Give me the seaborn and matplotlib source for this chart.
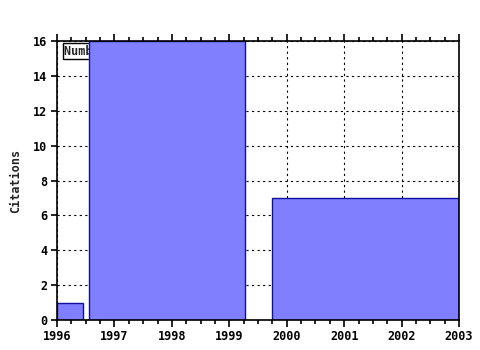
import matplotlib
matplotlib.use("Agg")
import matplotlib.pyplot as plt
from matplotlib.ticker import MultipleLocator
import seaborn as sns

# Data
bin_edges = [1996.0, 1996.45, 1996.56, 1999.27, 1999.75, 2003.0]
citations = [1, 0, 16, 0, 7]
x_ticks = [1996, 1997, 1998, 1999, 2000, 2001, 2002, 2003]
y_ticks = [0, 2, 4, 6, 8, 10, 12, 14, 16]
legend_label = "Number of citations"

sns.set_style("ticks")
plt.rcParams['font.family'] = ['DejaVu Sans Mono', 'DejaVu Sans']
plt.rcParams['font.weight'] = 'bold'
plt.rcParams['xtick.bottom'] = True
plt.rcParams['xtick.top'] = True
plt.rcParams['ytick.left'] = True
plt.rcParams['xtick.color'] = 'black'
plt.rcParams['ytick.color'] = 'black'

fig = plt.figure(figsize=(4.8, 3.5), dpi=100)
ax = fig.add_axes([57/480, 1 - 320/350, (459 - 57)/480, (320 - 41)/350])

mids = [(a + b) / 2 for a, b in zip(bin_edges[:-1], bin_edges[1:])]
sns.histplot(x=mids, weights=citations, bins=bin_edges, ax=ax,
             color="#8080ff", alpha=1.0, edgecolor="#1010a0", linewidth=1.0,
             zorder=3)
for p, c in zip(ax.patches, citations):
    if c == 0:
        p.set_visible(False)

ax.set_xlim(1996, 2003)
ax.set_ylim(0, 16)
ax.set_xticks(x_ticks)
ax.set_xticklabels([str(t) for t in x_ticks])
ax.set_yticks(y_ticks)
ax.xaxis.set_minor_locator(MultipleLocator(0.25))
ax.set_xlabel("")
ax.set_ylabel("Citations", fontsize=8.5, fontweight='bold', labelpad=8)

ax.grid(True, which='major', color='black', linestyle=(0, (2, 3)), linewidth=0.8, zorder=0)
ax.set_axisbelow(True)

for s in ax.spines.values():
    s.set_visible(True)
    s.set_color('black')
    s.set_linewidth(1.2)
    s.set_zorder(5)

ax.tick_params(axis='x', which='major', direction='out', length=5, width=1.2,
               top=True, bottom=True, labelsize=8.5, colors='black', pad=2)
ax.tick_params(axis='x', which='minor', direction='out', length=3, width=1.2,
               top=True, bottom=True, colors='black')
ax.tick_params(axis='y', which='major', direction='out', length=4, width=1.2,
               left=True, right=False, labelsize=8.5, colors='black', pad=3)
ax.tick_params(axis='y', which='minor', left=False, right=False)
for lab in ax.get_xticklabels() + ax.get_yticklabels():
    lab.set_fontweight('bold')

ax.text(1996.13, 15.42, legend_label, fontsize=8.5, fontweight='bold',
        va='center', ha='left', zorder=1,
        bbox=dict(boxstyle='square,pad=0.12', facecolor='white', edgecolor='black', linewidth=1.0))

fig.savefig("out.png", dpi=100)
